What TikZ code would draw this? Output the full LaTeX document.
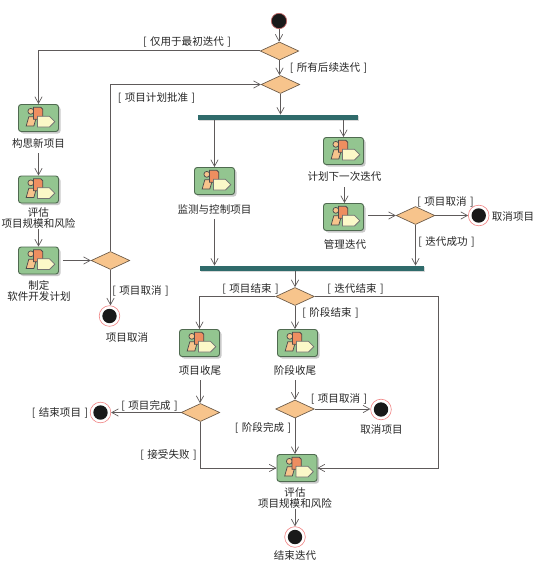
\documentclass[tikz,border=0pt]{standalone}
\usepackage{fontspec}
\setmainfont{Noto Sans CJK SC}
\usetikzlibrary{arrows.meta,shapes.geometric,shadows}
\definecolor{linec}{HTML}{5E5A5A}
\definecolor{boxf}{HTML}{93C590}
\definecolor{boxe}{HTML}{4F6A50}
\definecolor{dia}{HTML}{F7C48C}
\definecolor{diae}{HTML}{6B5A48}
\definecolor{barc}{HTML}{2F6B6B}
\definecolor{ring}{HTML}{F08080}
\definecolor{docc}{HTML}{EE8E60}
\definecolor{penc}{HTML}{FBF8C8}
\newcommand\grd[1]{[\kern2.6pt #1\kern2.6pt]}
\tikzset{
  conn/.style={draw=linec,line width=0.75pt,-{Straight Barb[length=5pt,width=5.5pt,line width=0.5pt]}},
  txt/.style={inner sep=0pt,align=center,text=black!85,font=\fontsize{7.9pt}{8.6pt}\selectfont},
  lbl/.style={txt,minimum height=15pt},
  actbox/.style={draw=boxe,line width=0.7pt,fill=boxf,rounded corners=2pt,minimum width=30pt,minimum height=20.25pt,inner sep=0pt,
    drop shadow={shadow xshift=1.5pt,shadow yshift=-1.5pt,opacity=.35,fill=black!60},
    path picture={
      \begin{scope}[sharp corners,shift={(path picture bounding box.center)},x=0.25pt,y=-0.25pt,draw=black!70,line width=0.55pt]
        \filldraw[fill=dia] (-23,-20) circle (2.2pt);
        \filldraw[fill=dia] (-37,24) -- (-29,-4) -- (-6,-4) -- (-14,24) -- cycle;
        \filldraw[fill=docc] (-15,-32) -- (7,-32) -- (13,-26) -- (13,4) -- (-15,4) -- cycle;
        \filldraw[fill=penc,draw=black!55] (-3,-5) -- (33,-5) -- (49,11) -- (33,27) -- (-3,27) -- cycle;
      \end{scope}
    }},
  dec/.style={diamond,draw=diae,line width=0.5pt,fill=dia,minimum width=29pt,minimum height=13.5pt,inner sep=0pt,aspect=2.1},
  barn/.style={fill=barc,inner sep=0pt,minimum height=4pt,
    drop shadow={shadow xshift=0.7pt,shadow yshift=-0.7pt,opacity=.25,fill=black!60}},
  startn/.style={circle,draw=ring!80!black,line width=0.5pt,fill=black!90,minimum size=11.5pt,inner sep=0pt},
  endn/.style={circle,draw=ring,line width=0.45pt,fill=white,minimum size=15.5pt,inner sep=0pt,
    path picture={\fill[black!90] (path picture bounding box.center) circle (5.4pt);}},
}
\begin{document}
\begin{tikzpicture}[x=0.75pt,y=-0.75pt]
\useasboundingbox[fill=white] (0,0) rectangle (537,567);
% activity boxes
\node[actbox] (a1) at (38.5,118) {};
\node[actbox] (a2) at (38.5,189.5) {};
\node[actbox] (a3) at (38.5,260.5) {};
\node[actbox] (a4) at (214.5,181) {};
\node[actbox] (a5) at (343.5,151) {};
\node[actbox] (a6) at (343.5,217) {};
\node[actbox] (a7) at (199.5,343) {};
\node[actbox] (a8) at (297.5,343) {};
\node[actbox] (a9) at (297,468) {};
% activity labels
\node[lbl] (t1) at (38.5,143) {构思新项目};
\node[lbl] (t2) at (38.5,218) {评估\\项目规模和风险};
\node[lbl] (t3) at (39,291) {制定\\软件开发计划};
\node[lbl] (t4) at (214.5,209) {监测与控制项目};
\node[lbl] (t5) at (344.5,177) {计划下一次迭代};
\node[lbl] (t6) at (345,244) {管理迭代};
\node[lbl] (t7) at (200,370) {项目收尾};
\node[lbl] (t8) at (295,370) {阶段收尾};
\node[lbl] (t9) at (295,498) {评估\\项目规模和风险};
\node[lbl] (t10) at (127,337) {项目取消};
\node[lbl] (t11) at (513,216) {取消项目};
\node[lbl] (t12) at (381.5,429) {取消项目};
\node[lbl] (t13) at (60,413) {\grd{结束项目}};
\node[lbl] (t14) at (295,555) {结束迭代};
% decisions
\node[dec] (d1) at (279.5,51) {};
\node[dec] (d2) at (280.5,84.5) {};
\node[dec] (d3) at (110.5,260.5) {};
\node[dec] (d4) at (415.5,215.5) {};
\node[dec] (d5) at (295,296.5) {};
\node[dec] (d6) at (200.5,412.5) {};
\node[dec] (d7) at (295,409) {};
% bars
\node[barn,minimum width=120pt] (b1) at (278,117.5) {};
\node[barn,minimum width=168pt] (b2) at (312,268.5) {};
% start / end
\node[startn] (s) at (279,21) {};
\node[endn] (e1) at (109.5,316) {};
\node[endn] (e2) at (478.7,215.5) {};
\node[endn] (e3) at (100.5,412.5) {};
\node[endn] (e4) at (381,409.5) {};
\node[endn] (e5) at (295,537) {};
% guard labels
\node[lbl] (g1) at (187,42) {\grd{仅用于最初迭代}};
\node[lbl] (g2) at (156.5,98) {\grd{项目计划批准}};
\node[lbl] (g3) at (328.5,68) {\grd{所有后续迭代}};
\node[lbl] (g4) at (445.5,202) {\grd{项目取消}};
\node[lbl] (g5) at (446.5,242) {\grd{迭代成功}};
\node[lbl] (g6) at (140.5,291) {\grd{项目取消}};
\node[lbl] (g7) at (250.5,289) {\grd{项目结束}};
\node[lbl] (g8) at (355.5,289) {\grd{迭代结束}};
\node[lbl] (g9) at (330.5,313) {\grd{阶段结束}};
\node[lbl] (g10) at (149.5,406) {\grd{项目完成}};
\node[lbl] (g11) at (339,399) {\grd{项目取消}};
\node[lbl] (g12) at (263,428) {\grd{阶段完成}};
\node[lbl] (g13) at (168.5,455) {\grd{接受失败}};
% connectors
\draw[conn] (s) -- (s |- d1.north);
\draw[conn] (d1.south) -- (d1.south |- d2.north);
\draw[conn] (d2.south) -- (d2.south |- b1.north);
\draw[conn] (d1.west) -| (a1.north);
\draw[conn] (d3.north) |- (d2.west);
\draw[conn] (t1.south) -- (t1.south |- a2.north);
\draw[conn] (t2.south) -- (t2.south |- a3.north);
\draw[conn,shorten <=3pt] (a3.east) -- (d3.west);
\draw[conn] (d3.south) -- (d3.south |- e1.north);
\draw[conn] (b1.south -| a4.north) -- (a4.north);
\draw[conn] (b1.south -| a5.north) -- (a5.north);
\draw[conn] (t5.south) -- (t5.south |- a6.north);
\draw[conn,shorten <=3pt] (a6.east |- d4.west) -- (d4.west);
\draw[conn] (d4.east) -- (e2.west);
\draw[conn] (d4.south) -- (d4.south |- b2.north);
\draw[conn] (t4.south) -- (t4.south |- b2.north);
\draw[conn] (b2.south -| d5.north) -- (d5.north);
\draw[conn] (d5.south) -- (d5.south |- a8.north);
\draw[conn] (d5.west) -| (a7.north);
\draw[conn] (d5.east) -- ++(123.5,0) |- (a9.east);
\draw[conn] (t7.south) -- (t7.south |- d6.north);
\draw[conn] (t8.south) -- (t8.south |- d7.north);
\draw[conn] (d6.west) -- (e3.east);
\draw[conn] (d6.south) |- (a9.west);
\draw[conn] (d7.east) -- (d7.east -| e4.west);
\draw[conn] (d7.south) -- (d7.south |- a9.north);
\draw[conn] (t9.south) -- (t9.south |- e5.north);
\end{tikzpicture}
\end{document}
